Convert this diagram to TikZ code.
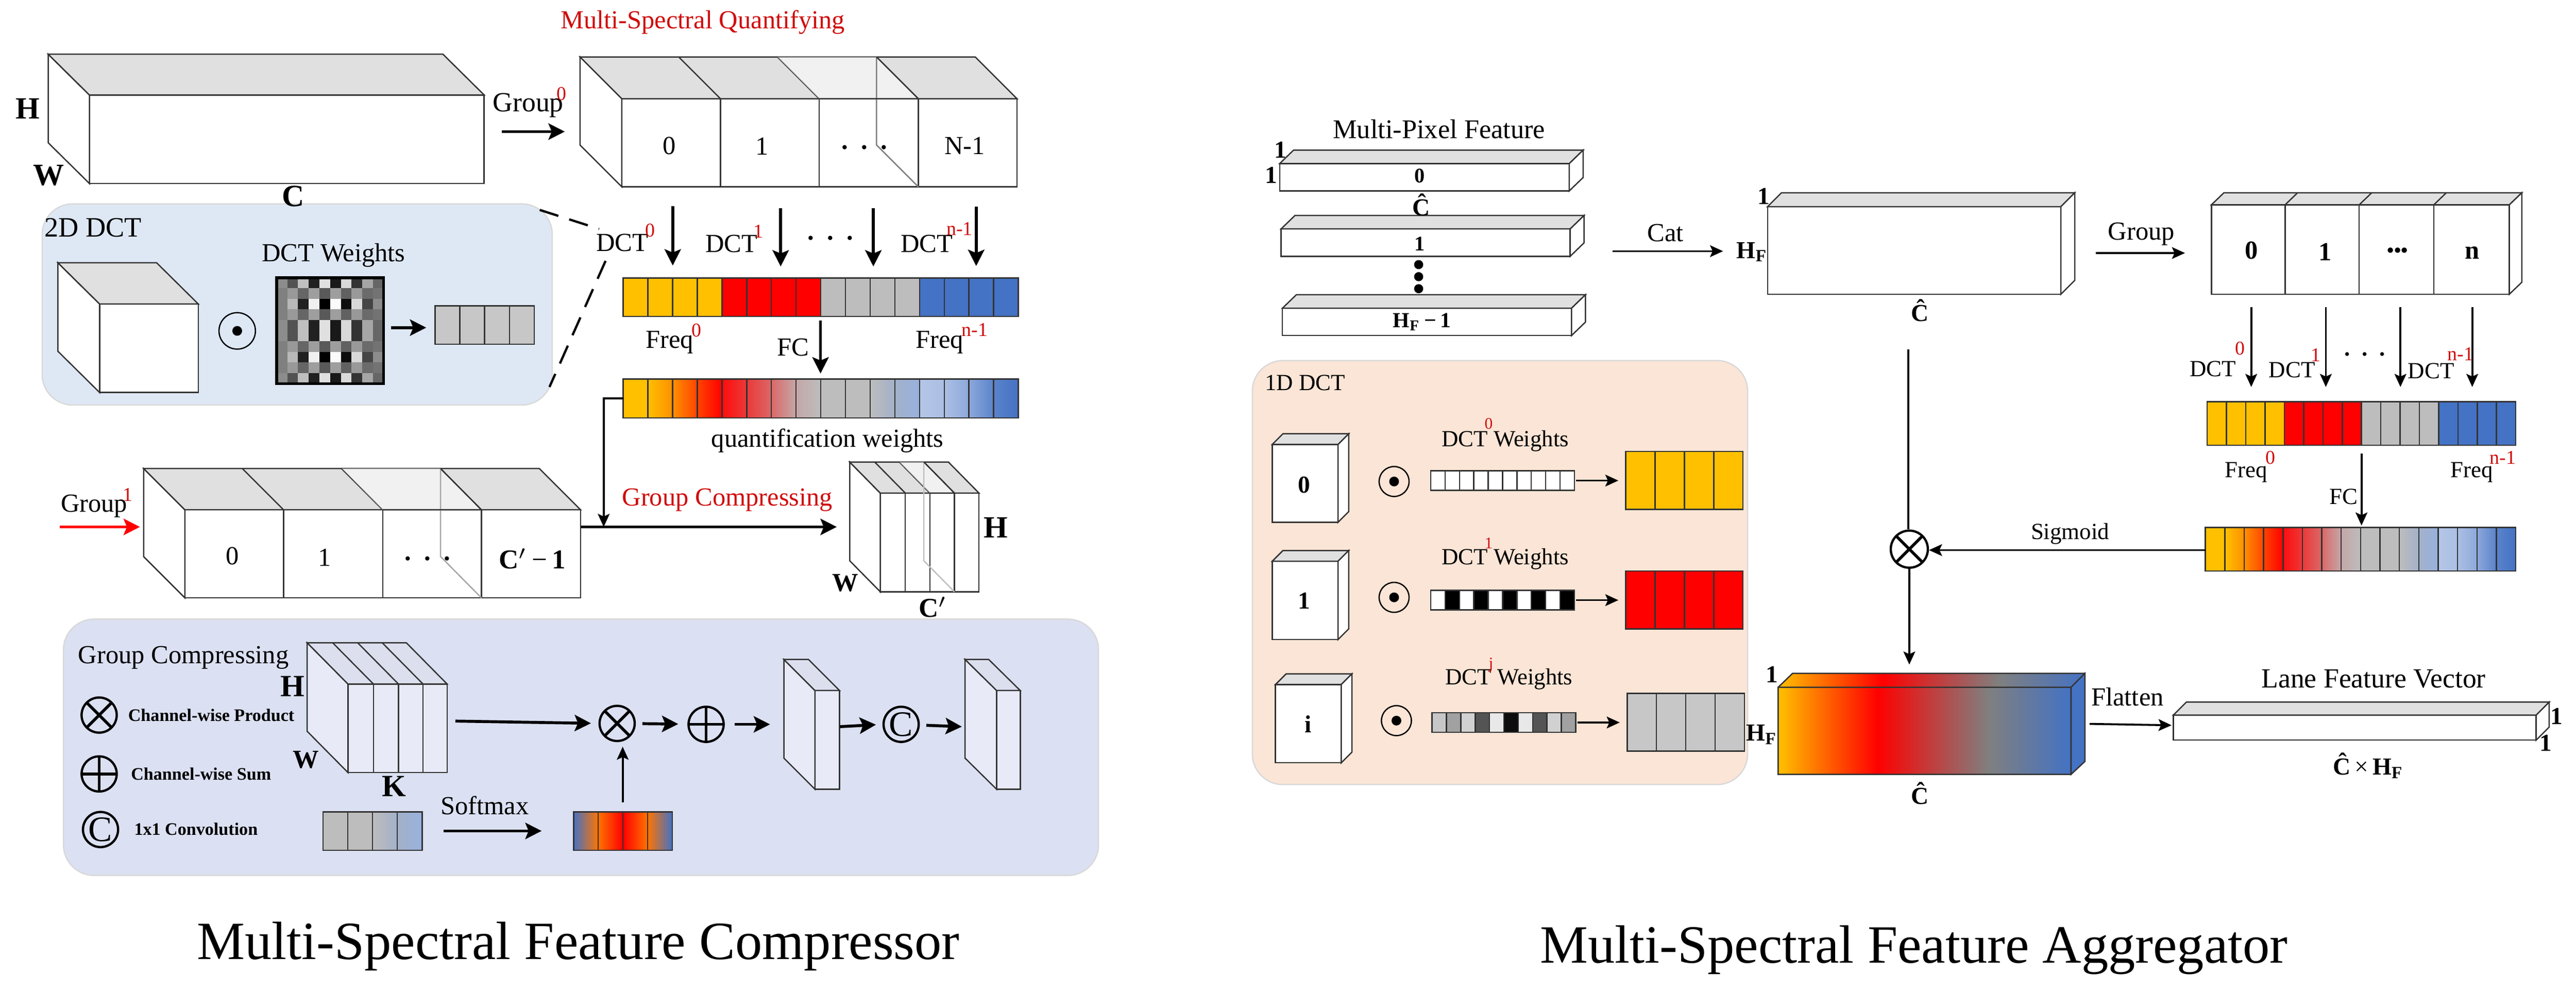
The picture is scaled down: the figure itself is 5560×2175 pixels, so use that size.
\documentclass[tikz,border=0pt]{standalone}
\usepackage[no-math]{fontspec}
\setmainfont{Liberation Serif}
\usetikzlibrary{arrows.meta}

\definecolor{amber}{HTML}{FFC000}
\definecolor{bandred}{HTML}{FF0000}
\definecolor{bandgray}{HTML}{BDBDBD}
\definecolor{bandblue}{HTML}{4472C4}
\definecolor{bandpale}{HTML}{B4C6E7}
\definecolor{labred}{HTML}{D00C0C}
\definecolor{panelblue}{HTML}{DEE8F5}
\definecolor{panelviolet}{HTML}{DBE0F2}
\definecolor{panelpeach}{HTML}{FBE5D6}

\pgfdeclarehorizontalshading{cubeshade}{100bp}{color(0bp)=(amber); color(25bp)=(amber); color(42bp)=(bandred); color(61bp)=(gray); color(75bp)=(bandblue); color(100bp)=(bandblue)}

\tikzset{
	boxline/.style={draw=black!80, line width=0.4pt},
	frontface/.style={boxline, fill=white},
	topface/.style={boxline, fill=black!12},
	sideface/.style={boxline, fill=white},
	panel/.style={draw=black!15, line width=0.4pt, rounded corners=3.3mm},
	lab/.style={inner sep=0pt, font=\fontsize{8}{9}\selectfont},
	labsm/.style={inner sep=0pt, font=\fontsize{7.1}{8}\selectfont},
	labsup/.style={inner sep=0pt, text=labred, font=\fontsize{6}{7}\selectfont},
	labbf/.style={inner sep=0pt, font=\fontsize{9.5}{10}\selectfont\bfseries},
	labdim/.style={inner sep=0pt, font=\fontsize{7.5}{9}\selectfont\bfseries},
	labtiny/.style={inner sep=0pt, font=\fontsize{5.4}{6}\selectfont\bfseries},
	titlelab/.style={inner sep=0pt, font=\fontsize{16.55}{18}\selectfont},
	arrowbold/.style={line width=0.9pt, -{Stealth[length=5pt, width=5pt, inset=1pt]}},
	arrowthin/.style={line width=0.6pt, -{Stealth[length=4pt, width=3.6pt, inset=0.8pt]}},
	opbase/.style={circle, draw, line width=0.7pt, inner sep=0pt, minimum size=10.8pt},
	opprod/.style={opbase, path picture={\draw[line width=0.9pt] (path picture bounding box.north west) -- (path picture bounding box.south east) (path picture bounding box.north east) -- (path picture bounding box.south west);}},
	opsum/.style={opbase, path picture={\draw[line width=0.9pt] (path picture bounding box.north) -- (path picture bounding box.south) (path picture bounding box.west) -- (path picture bounding box.east);}},
	opconv/.style={opbase, font=\fontsize{11}{11}\selectfont},
	opdot/.style={opbase, line width=0.4pt, minimum size=#1, path picture={\fill (path picture bounding box.center) circle (1.5pt);}},
	opdot/.default=11.2pt,
}

\newcommand{\hfsub}{H\textsubscript{F}}
\newcommand{\spaced}{\textbf{.\hspace{0.5em}.\hspace{0.5em}.}}
\newcommand{\blockleft}[7]{
	\draw[frontface] (#1,#2) rectangle (#3,#4);
	\draw[sideface] (#1,#2) -- (#1-#5,#2-#6) -- (#1-#5,#4-#6) -- (#1,#4) -- cycle;
	\draw[topface] (#1,#2) -- (#1-#5,#2-#6) -- (#3-#5,#2-#6) -- (#3,#2) -- cycle;
	\foreach \dv in {#7}{
		\draw[boxline] (\dv,#2) -- (\dv,#4);
		\draw[boxline] (\dv,#2) -- (\dv-#5,#2-#6);
	}
}
\newcommand{\blockright}[7]{
	\draw[frontface] (#1,#2) rectangle (#3,#4);
	\draw[topface] (#1,#2) -- (#1+#5,#2-#6) -- (#3+#5,#2-#6) -- (#3,#2) -- cycle;
	\draw[sideface] (#3,#2) -- (#3+#5,#2-#6) -- (#3+#5,#4-#6) -- (#3,#4) -- cycle;
	\foreach \dv in {#7}{
		\draw[boxline] (\dv,#2) -- (\dv,#4);
		\draw[boxline] (\dv,#2) -- (\dv+#5,#2-#6);
	}
}
\newcommand{\ghostcell}[7]{
	\fill[white, opacity=0.55] (#1,#3) -- (#1-#5,#3-#6) -- (#2-#5,#3-#6) -- (#2,#3) -- cycle;
	\draw[black!#7, line width=0.4pt] (#2-#5,#3-#6) -- (#2-#5,#4-#6) -- (#2,#4);
}
\newcommand{\cellbars}[5]{
	\foreach \k in {1,...,#5}{
		\draw[boxline] ({#1+\k*(#3-#1)/#5},#2) -- ({#1+\k*(#3-#1)/#5},#4);
	}
	\draw[boxline] (#1,#2) rectangle (#3,#4);
}
\newcommand{\fourband}[4]{
	\foreach \k/\col in {0/amber,1/bandred,2/bandgray,3/bandblue}{
		\fill[\col] ({#1+\k*(#3-#1)/4},#2) rectangle ({#1+(\k+1)*(#3-#1)/4},#4);
	}
	\cellbars{#1}{#2}{#3}{#4}{16}
}
\newcommand{\gradband}[4]{
	\foreach \k/\cl/\cr in {0/amber/amber,1/amber/amber!75!bandred,2/amber!75!bandred/amber!35!bandred,3/amber!35!bandred/bandred,
		4/bandred!95!white/bandred!70!bandgray,5/bandred!70!bandgray/bandred!45!bandgray,6/bandred!45!bandgray/bandred!12!bandgray,7/bandred!12!bandgray/bandgray,
		8/bandgray/bandgray,9/bandgray/bandgray,10/bandgray/bandgray!65!bandblue!85!white,11/bandgray!65!bandblue!85!white/bandpale!75!bandblue,
		12/bandpale/bandpale!92!bandblue,13/bandpale!92!bandblue/bandpale!65!bandblue,14/bandpale!65!bandblue/bandpale!20!bandblue,15/bandpale!20!bandblue/bandblue}{
		\shade[left color=\cl, right color=\cr] ({#1+\k*(#3-#1)/16},#2) rectangle ({#1+(\k+1)*(#3-#1)/16},#4);
	}
	\cellbars{#1}{#2}{#3}{#4}{16}
}
\newcommand{\solidfour}[5]{
	\fill[#5] (#1,#2) rectangle (#3,#4);
	\cellbars{#1}{#2}{#3}{#4}{4}
}
\newcommand{\weightbar}[5]{
	\foreach \g [count=\k from 0] in {#5}{
		\fill[white!\g!black] ({#1+\k*(#3-#1)/10},#2) rectangle ({#1+(\k+1)*(#3-#1)/10},#4);
	}
	\cellbars{#1}{#2}{#3}{#4}{10}
}

\begin{document}
\begin{tikzpicture}[x=0.005cm, y=-0.005cm]
	\useasboundingbox (0,0) rectangle (5560,2175);

	\blockleft{193}{205}{1045}{396}{89}{88}{}
	\node[labbf] (inH) at (60,235) {H};
	\node[labbf] (inW) at (105,378) {W};
	\node[lab, font=\fontsize{8.5}{9}\selectfont] (groupA) at (1140,227) {Group};
	\node[labsup] (groupAsup) at (1212,203) {0};

	\node[lab, text=labred] (quantTitle) at (1517,48) {Multi-Spectral Quantifying};
	\blockleft{1342}{213}{2195}{403}{90}{90}{1555,1768,1982}
	\ghostcell{1768}{1982}{213}{403}{90}{90}{50}
	\draw[boxline] (1768,213) -- (1982,213) (1982,213) -- (1892,123);
	\node[lab] (quantA) at (1445,315) {0};
	\node[lab] (quantB) at (1645,316) {1};
	\node[lab] (quantC) at (1866,318) {\spaced};
	\node[lab] (quantD) at (2082,315) {N-1};

	\draw[panel, fill=panelblue] (91,440) rectangle (1192,874);
	\node[labbf] (inC) at (633,424) {C};
	\node[lab, font=\fontsize{8.6}{9}\selectfont] (dctTitle) at (201,491) {2D DCT};
	\blockleft{215}{656}{428}{847}{90}{89}{}
	\node[opdot] (dotA) at (512,714) {};
	\node[lab] (weightsTitle) at (720,551) {DCT Weights};
	\foreach \rowlist [count=\r from 0] in {
		{55,32,75,13,88,10,85,20,65,40},{50,60,40,62,35,62,38,60,42,45},{50,72,13,94,0,98,5,85,27,55},{50,60,40,62,35,62,38,60,42,45},{55,32,75,13,88,10,85,20,65,40},
		{55,32,75,13,88,10,85,20,65,40},{50,60,40,62,35,62,38,60,42,45},{50,72,13,94,0,98,5,85,27,55},{50,60,40,62,35,62,38,60,42,45},{55,32,75,13,88,10,85,20,65,40}}{
		\foreach \g [count=\c from 0] in \rowlist{
			\fill[white!\g!black] ({597+\c*23.1},{599+\r*22.9}) rectangle ({597+(\c+1)*23.1},{599+(\r+1)*22.9});
		}
	}
	\draw[line width=0.9pt] (597,599) rectangle (828,828);
	\solidfour{939}{660}{1153}{743}{black!22}
	\coordinate (matOut) at (844,707);
	\coordinate (grayIn) at (920,707);
	\draw[arrowbold] (matOut) -- (grayIn);

	\coordinate (panelTop) at (1165,453);
	\coordinate (panelBot) at (1186,835);
	\coordinate (dctTop) at (1293,494);
	\coordinate (dctBot) at (1307,563);
	\draw[dashed, line width=0.7pt, dash pattern=on 6pt off 3.5pt] (panelTop) -- (dctTop);
	\draw[dashed, line width=0.7pt, dash pattern=on 6pt off 3.5pt] (dctBot) -- (panelBot);

	\foreach \n/\xa/\ya/\xb/\yb in {dA/1452/445/1452/573,dB/1685/449/1685/575,dC/1885/449/1885/575,dD/2107/446/2107/574,fcA/1771/692/1771/806,grpA/1083/284/1219/284}{
		\coordinate (\n s) at (\xa,\ya);
		\coordinate (\n e) at (\xb,\yb);
		\draw[arrowbold] (\n s) -- (\n e);
	}
	\node[lab] (dctA) at (1343,524) {DCT};
	\node[labsup] (dctAsup) at (1403,497) {0};
	\node[lab] (dctB) at (1579,526) {DCT};
	\node[labsup] (dctBsup) at (1637,499) {1};
	\node[lab] (dctDots) at (1792,514) {\spaced};
	\node[lab] (dctC) at (2000,526) {DCT};
	\node[labsup] (dctCsup) at (2071,494) {n-1};

	\fourband{1345}{600}{2198}{683}
	\node[lab] (freqA) at (1445,739) {Freq};
	\node[labsup] (freqAsup) at (1503,713) {0};
	\node[lab] (fcLab) at (1712,750) {FC};
	\node[lab] (freqB) at (2028,739) {Freq};
	\node[labsup] (freqBsup) at (2104,712) {n-1};
	\gradband{1345}{818}{2198}{902}
	\node[lab] (quantWeights) at (1786,951) {quantification weights};

	\blockleft{399}{1100}{1253}{1290}{89}{89}{612,826,1039}
	\ghostcell{826}{1039}{1100}{1290}{88}{89}{35}
	\draw[boxline] (826,1100) -- (1039,1100) -- (951,1011);
	\node[lab] (groupB) at (203,1092) {Group};
	\node[labsup] (groupBsup) at (276,1068) {1};
	\coordinate (redS) at (129,1137);
	\coordinate (redE) at (302,1137);
	\draw[arrowbold, bandred] (redS) -- (redE);
	\node[lab] (compA) at (502,1200) {0};
	\node[lab] (compB) at (701,1203) {1};
	\node[lab] (compC) at (923,1206) {\spaced};
	\node[labdim, font=\fontsize{8.4}{9}\selectfont\bfseries] (compD) at (1149,1206) {C$'$\,\textmd{−}\,1};
	\coordinate (compOut) at (1253,1137);
	\coordinate (stackIn) at (1806,1137);
	\draw[arrowbold] (compOut) -- (stackIn);
	\coordinate (wgtOut) at (1345,860);
	\coordinate (wgtDrop) at (1303,1137);
	\draw[arrowthin] (wgtOut) -| (wgtDrop);
	\node[lab, text=labred] (compTitle) at (1570,1079) {Group Compressing};

	\blockleft{1900}{1064}{2113}{1277}{66}{67}{1954,2007,2060}
	\ghostcell{2007}{2060}{1064}{1277}{66}{67}{25}
	\draw[boxline] (2007,1064) -- (2060,1064) -- (1994,997);
	\node[labbf] (outH) at (2149,1139) {H};
	\node[lab, font=\fontsize{8}{9}\selectfont\bfseries] (outW) at (1824,1258) {W};
	\node[labdim, font=\fontsize{8.4}{9}\selectfont\bfseries] (outC) at (2014,1310) {C$'$};

	\draw[panel, fill=panelviolet] (137,1336) rectangle (2371,1889);
	\node[lab] (gcTitle) at (396,1419) {Group Compressing};
	\begin{scope}[frontface/.style={boxline, fill=blue!3!panelviolet!55!white}, sideface/.style={boxline, fill=blue!3!panelviolet!55!white}, topface/.style={boxline, fill=black!3!panelviolet!85!white}]
		\blockleft{751}{1476}{965}{1667}{88}{89}{806,860,913}
		\blockleft{1759}{1490}{1812}{1703}{67}{67}{}
		\blockleft{2151}{1490}{2202}{1703}{68}{67}{}
	\end{scope}
	\node[labbf] (stackH) at (631,1481) {H};
	\node[lab, font=\fontsize{8}{9}\selectfont\bfseries] (stackW) at (660,1639) {W};
	\node[labbf] (stackK) at (850,1697) {K};
	\node[opprod] (legProd) at (214,1543) {};
	\node[opsum] (legSum) at (214,1670) {};
	\node[opconv] (legConv) at (217,1790) {C};
	\node[labtiny] (legProdLab) at (456,1543) {Channel-wise Product};
	\node[labtiny] (legSumLab) at (434,1670) {Channel-wise Sum};
	\node[labtiny] (legConvLab) at (423,1789) {1x1 Convolution};

	\node[opprod] (prodA) at (1332,1561) {};
	\node[opsum] (sumA) at (1524,1563) {};
	\node[opconv] (convA) at (1945,1563) {C};
	\coordinate (stackOut) at (983,1556);
	\coordinate (slabAin) at (1662,1563);
	\coordinate (slabAout) at (1813,1568);
	\coordinate (slabBin) at (2076,1568);
	\draw[arrowbold, shorten >=2.3pt] (stackOut) -- (prodA.west);
	\draw[arrowbold, shorten <=2pt, shorten >=2.8pt] (prodA) -- (sumA);
	\draw[arrowbold, shorten <=3pt] (sumA) -- (slabAin);
	\draw[arrowbold, shorten >=2pt] (slabAout) -- (convA.west);
	\draw[arrowbold, shorten <=2pt] (convA) -- (slabBin);

	\foreach \k/\cl/\cr in {0/bandgray/bandgray,1/bandgray/bandgray,2/bandgray/bandgray!65!bandblue!85!white,3/bandgray!65!bandblue!85!white/bandpale!75!bandblue}{
		\shade[left color=\cl, right color=\cr] ({697+\k*53.5},1752) rectangle ({697+(\k+1)*53.5},1835);
	}
	\cellbars{697}{1752}{911}{1835}{4}
	\node[lab] (softLab) at (1046,1738) {Softmax};
	\coordinate (softS) at (957,1793);
	\coordinate (softE) at (1169,1793);
	\draw[arrowbold] (softS) -- (softE);
	\foreach \k/\cl/\cr in {0/bandblue/orange!90!bandred,1/orange!90!bandred/bandred,2/bandred/orange!90!bandred,3/orange!90!bandred/bandblue}{
		\shade[left color=\cl, right color=\cr] ({1238+\k*53.25},1752) rectangle ({1238+(\k+1)*53.25},1835);
	}
	\cellbars{1238}{1752}{1451}{1835}{4}
	\coordinate (softUp) at (1344,1731);
	\draw[arrowthin, shorten >=1.4pt] (softUp) -- (prodA.south -| softUp);

	\node[titlelab] (titleA) at (1248,2042) {Multi-Spectral Feature Compressor};
	\node[titlelab] (titleB) at (4131,2050) {Multi-Spectral Feature Aggregator};

	\node[lab, font=\fontsize{8.3}{9}\selectfont] (pixTitle) at (3106,279) {Multi-Pixel Feature};
	\blockright{2762}{353}{3387}{412}{30}{29}{}
	\blockright{2765}{494}{3389}{553}{30}{29}{}
	\blockright{2768}{665}{3392}{724}{30}{29}{}
	\node[labdim, font=\fontsize{6.4}{7}\selectfont\bfseries] (barA) at (3064,380) {0};
	\node[labdim] (barC) at (3067,442) {Ĉ};
	\node[labdim, font=\fontsize{6.4}{7}\selectfont\bfseries] (barB) at (3064,526) {1};
	\foreach \n/\y in {dotP/571,dotQ/597,dotR/623}{
		\fill (3062,\y) circle (1.4pt);
	}
	\node[labdim, font=\fontsize{6.6}{7}\selectfont\bfseries] (barD) at (3069,695) {\hfsub\,−\,1};
	\node[labdim] (barOneA) at (2764,323) {1};
	\node[labdim] (barOneB) at (2744,378) {1};
	\node[lab] (catLab) at (3595,503) {Cat};
	\coordinate (catS) at (3480,542);
	\coordinate (catE) at (3719,542);
	\draw[arrowthin] (catS) -- (catE);

	\draw[panel, fill=panelpeach] (2703,778) rectangle (3772,1693);
	\node[labsm] (peachTitle) at (2817,826) {1D DCT};
	\blockright{2746}{959}{2888}{1127}{23}{23}{}
	\blockright{2746}{1211}{2888}{1380}{23}{23}{}
	\blockright{2753}{1477}{2895}{1646}{23}{23}{}
	\node[labdim] (cubeA) at (2815,1046) {0};
	\node[labdim] (cubeB) at (2815,1296) {1};
	\node[labdim] (cubeC) at (2823,1562) {i};
	\node[opdot=9.2pt] (dotB) at (3009,1039) {};
	\node[opdot=9.2pt] (dotC) at (3009,1289) {};
	\node[opdot=9.2pt] (dotD) at (3014,1555) {};
	\node[labsm] (wA) at (3249,952) {DCT Weights};
	\node[labsup, font=\fontsize{5}{6}\selectfont] (wAsup) at (3213,914) {0};
	\node[labsm] (wB) at (3249,1206) {DCT Weights};
	\node[labsup, font=\fontsize{5}{6}\selectfont] (wBsup) at (3213,1172) {1};
	\node[labsm] (wC) at (3257,1465) {DCT Weights};
	\node[labsup, font=\fontsize{5}{6}\selectfont] (wCsup) at (3218,1435) {j};
	\weightbar{3088}{1016}{3398}{1058}{100,100,100,100,100,100,100,100,100,100}
	\weightbar{3088}{1274}{3398}{1316}{100,0,100,0,100,0,100,0,100,0}
	\weightbar{3091}{1538}{3401}{1580}{78,63,82,33,91,5,91,33,82,63}
	\foreach \n/\xa/\ya/\xb/\yb in {rowA/3402/1037/3493/1037,rowB/3402/1295/3493/1295,rowC/3405/1559/3496/1559}{
		\coordinate (\n s) at (\xa,\ya);
		\coordinate (\n e) at (\xb,\yb);
		\draw[arrowthin] (\n s) -- (\n e);
	}
	\solidfour{3509}{974}{3762}{1099}{amber}
	\solidfour{3509}{1232}{3762}{1357}{bandred}
	\solidfour{3512}{1496}{3765}{1621}{bandgray!85!white}

	\blockright{3815}{446}{4448}{635}{30}{30}{}
	\node[labdim] (flatOne) at (3807,424) {1};
	\node[labdim] (flatH) at (3782,544) {\hfsub};
	\node[labdim] (flatC) at (4144,670) {Ĉ};
	\node[lab] (groupR) at (4622,505) {Group};
	\coordinate (groupS) at (4524,546);
	\coordinate (groupE) at (4716,546);
	\draw[arrowthin] (groupS) -- (groupE);
	\blockright{4773}{442}{5416}{635}{27}{26}{4932,5092,5253}
	\node[labdim, font=\fontsize{8}{9}\selectfont\bfseries] (grA) at (4859,540) {0};
	\node[labdim, font=\fontsize{8}{9}\selectfont\bfseries] (grB) at (5019,544) {1};
	\node[labdim, font=\fontsize{6}{7}\selectfont\bfseries] (grC) at (5175,544) {•••};
	\node[labdim, font=\fontsize{8}{9}\selectfont\bfseries] (grD) at (5336,546) {n};
	\foreach \n/\xa/\ya/\xb/\yb in {eA/4859/663/4859/835,eB/5020/663/5020/835,eC/5181/663/5181/835,eD/5336/663/5336/835,eF/5097/979/5097/1134}{
		\coordinate (\n s) at (\xa,\ya);
		\coordinate (\n e) at (\xb,\yb);
		\draw[arrowthin] (\n s) -- (\n e);
	}
	\node[labsm] (rdA) at (4776,796) {DCT};
	\node[labsup] (rdAsup) at (4835,752) {0};
	\node[labsm] (rdB) at (4947,798) {DCT};
	\node[labsup] (rdBsup) at (4998,766) {1};
	\node[labsm] (rdDots) at (5104,764) {\spaced};
	\node[labsm] (rdC) at (5247,801) {DCT};
	\node[labsup] (rdCsup) at (5311,764) {n-1};

	\fourband{4764}{867}{5430}{961}
	\node[labsm] (rfA) at (4848,1019) {Freq};
	\node[labsup] (rfAsup) at (4900,988) {0};
	\node[labsm] (rfB) at (5335,1019) {Freq};
	\node[labsup] (rfBsup) at (5402,988) {n-1};
	\node[labsm] (rfc) at (5058,1072) {FC};
	\gradband{4760}{1138}{5430}{1232}

	\node[opprod, minimum size=11.4pt] (prodB) at (4121,1185) {};
	\node[labsm] (sigLab) at (4468,1152) {Sigmoid};
	\coordinate (sigS) at (4760,1187);
	\draw[arrowthin] (sigS) -- (prodB.east |- sigS);
	\coordinate (flatDown) at (4119,754);
	\draw[line width=0.6pt] (flatDown) -- (prodB.north -| flatDown);
	\coordinate (cubeIn) at (4121,1434);
	\draw[arrowthin] (prodB) ++(0,42) -- (cubeIn);

	\fill[shading=cubeshade] (3838,1483) -- (3869,1453) -- (4500,1453) -- (4470,1483) -- cycle;
	\fill[shading=cubeshade] (3838,1483) rectangle (4470,1671);
	\draw[boxline, fill=bandblue] (4470,1483) -- (4500,1453) -- (4500,1643) -- (4470,1671) -- cycle;
	\draw[boxline] (3838,1483) rectangle (4470,1671) (3838,1483) -- (3869,1453) -- (4500,1453);
	\node[labdim] (cubeOne) at (3824,1455) {1};
	\node[labdim] (cubeH) at (3803,1585) {\hfsub};
	\node[labdim] (cubeCh) at (4144,1712) {Ĉ};
	\node[lab] (flatLab) at (4592,1504) {Flatten};
	\coordinate (flatS) at (4510,1562);
	\coordinate (flatE) at (4687,1565);
	\draw[arrowthin] (flatS) -- (flatE);
	\node[lab, font=\fontsize{8.5}{9}\selectfont] (laneTitle) at (5123,1465) {Lane Feature Vector};
	\blockright{4691}{1543}{5474}{1597}{28}{28}{}
	\node[labdim] (laneOneA) at (5518,1545) {1};
	\node[labdim] (laneOneB) at (5495,1603) {1};
	\node[labdim] (laneLab) at (5112,1652) {Ĉ\,\textmd{×}\,\hfsub};
\end{tikzpicture}
\end{document}
